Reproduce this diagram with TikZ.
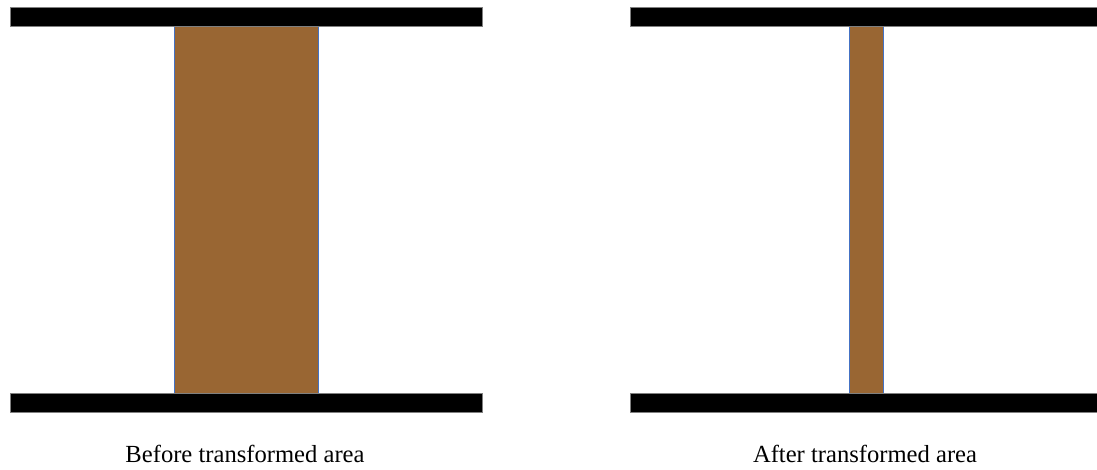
\documentclass[tikz,border=0pt]{standalone}
\usepackage{fontspec}
\setmainfont{Liberation Serif}
\definecolor{webbrown}{HTML}{996633}
\definecolor{webedge}{HTML}{4472C4}
\tikzset{
  flange/.style={fill=black, draw=gray, line width=0.8pt},
  web/.style={fill=webbrown, draw=webedge, line width=0.8pt},
  caption/.style={font=\fontsize{24.6}{28}\selectfont, anchor=base}
}
\begin{document}
\begin{tikzpicture}[x=1pt,y=-1pt]
\useasboundingbox (0,0) rectangle (1097,469);
% before
\draw[web] (174,26) rectangle (318,393);
\draw[flange] (10,7) rectangle (482,26);
\draw[flange] (10,393) rectangle (482,412);
\node[caption] (before) at (245,462) {Before transformed area};
% after
\draw[web] (849,26) rectangle (883,393);
\draw[flange] (630,7) rectangle (1097,26);
\draw[flange] (630,393) rectangle (1097,412);
\node[caption] (after) at (865,462) {After transformed area};
\end{tikzpicture}
\end{document}
